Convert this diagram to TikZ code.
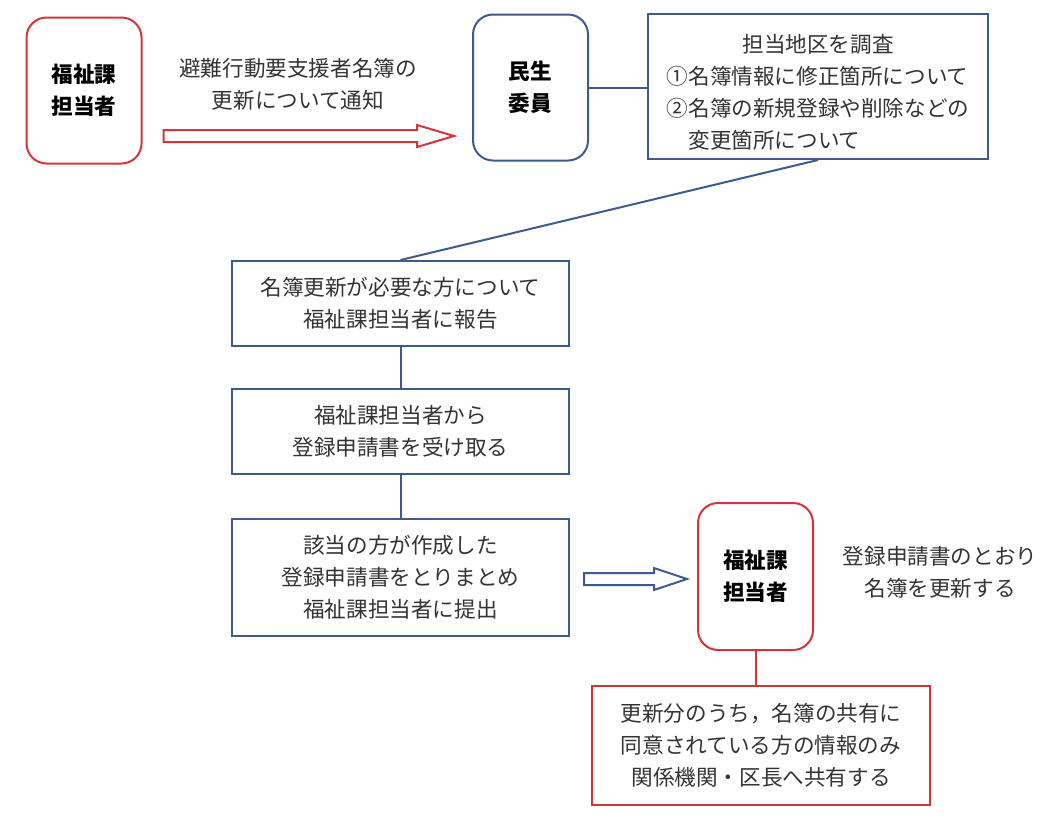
\documentclass[tikz,border=0pt]{standalone}
\usepackage{fontspec}
\setmainfont{Noto Sans CJK JP}
\usetikzlibrary{positioning,calc}
\definecolor{wRed}{HTML}{D4343A}
\definecolor{wBlue}{HTML}{3F5B8E}
\definecolor{wText}{HTML}{333333}

% hollow block arrow: colour, from, to, head length
\newcommand{\hollowarrow}[4]{%
  \draw[#1, line width=1pt, line join=miter, fill=white]
    let \p1=(#2), \p2=(#3) in
    (\x1,\y1+3pt) -- (\x2-#4,\y1+3pt) -- (\x2-#4,\y1+5.5pt) -- (\x2,\y1)
    -- (\x2-#4,\y1-5.5pt) -- (\x2-#4,\y1-3pt) -- (\x1,\y1-3pt) -- cycle;}

\begin{document}
\begin{tikzpicture}[
    x=0.5pt, y=-0.5pt,
    every node/.style={font=\fontsize{10.8pt}{16pt}\selectfont, text=wText},
    roundbox/.style={draw, line width=1pt, rounded corners=10pt,
                     minimum width=57.5pt, minimum height=73pt, align=center,
                     inner sep=0pt, text=black, font=\fontsize{10.8pt}{16pt}\selectfont\bfseries},
    stepbox/.style={draw=wBlue, line width=1pt, minimum width=168.5pt,
                    align=center, inner sep=0pt},
    note/.style={align=center, inner sep=0pt},
  ]
  \useasboundingbox (0,0) rectangle (1053,820);

  % Top row
  \node[roundbox, draw=wRed] (fuku1) at (84,90.5) {福祉課\\担当者};
  \node[roundbox, draw=wBlue] (minsei) at (530.5,87.5) {民生\\委員};
  \node[stepbox, minimum width=170pt, minimum height=72.5pt, align=left]
    (survey) at (818,86.5)
    {\rule{0pt}{14.5pt}\makebox[14em]{担当地区を調査}\\①名簿情報に修正箇所について\\②名簿の新規登録や削除などの\\　変更箇所について};
  \node[note] (notice) at (298,84) {避難行動要支援者名簿の\\更新について通知};

  % Left column
  \node[stepbox, minimum height=42.5pt] (box1) at (400.5,303.5)
    {名簿更新が必要な方について\\福祉課担当者に報告};
  \node[stepbox, minimum height=42.5pt, below=20.5pt of box1] (box2)
    {福祉課担当者から\\登録申請書を受け取る};
  \node[stepbox, minimum height=58.5pt, below=21.5pt of box2] (box3)
    {該当の方が作成した\\登録申請書をとりまとめ\\福祉課担当者に提出};

  % Bottom right
  \node[roundbox, draw=wRed, minimum height=73.5pt] (fuku2) at (755.5,576.5) {福祉課\\担当者};
  \node[note] (update) at (940,572) {登録申請書のとおり\\名簿を更新する};
  \node[stepbox, draw=wRed, minimum width=169pt, minimum height=59.5pt]
    (share) at (761,745.5)
    {更新分のうち，名簿の共有に\\同意されている方の情報のみ\\関係機関・区長へ共有する};

  % Connectors
  \draw[wBlue, line width=1pt] (minsei.east) -- (minsei.east -| survey.west);
  \draw[wBlue, line width=1pt] (survey.south) -- (box1.north);
  \draw[wBlue, line width=1pt] (box1) -- (box2);
  \draw[wBlue, line width=1pt] (box2) -- (box3);
  \draw[wRed, line width=1pt] (fuku2.south) -- (fuku2.south |- share.north);

  % Hollow arrows
  \coordinate (a1s) at ($(fuku1.east)+(10.5pt,-22.75pt)$);
  \coordinate (a1e) at ($(a1s -| minsei.west)+(-9pt,0)$);
  \hollowarrow{wRed}{a1s}{a1e}{18.5pt}
  \coordinate (a2s) at ($(box3.east)+(7pt,-0.75pt)$);
  \coordinate (a2e) at ($(a2s -| fuku2.west)+(-5pt,0)$);
  \hollowarrow{wBlue}{a2s}{a2e}{16.5pt}
\end{tikzpicture}
\end{document}
